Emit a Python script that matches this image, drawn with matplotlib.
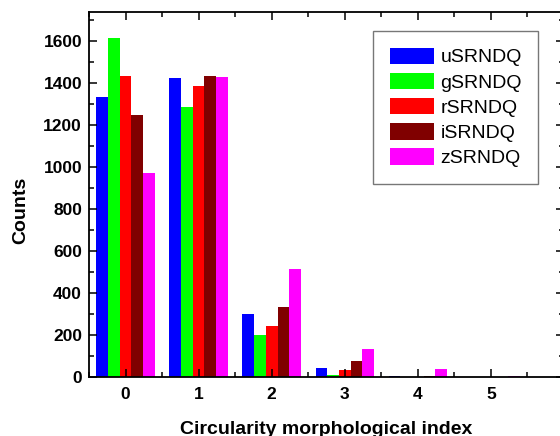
import numpy as np
import matplotlib
matplotlib.use('Agg')
import matplotlib.pyplot as plt
from matplotlib.ticker import MultipleLocator

# Counts per circularity index for each band
index = [0, 1, 2, 3, 4, 5]
uSRNDQ = [1337, 1424, 301, 41, 6, 0]
gSRNDQ = [1616, 1288, 200, 8, 0, 0]
rSRNDQ = [1436, 1386, 243, 32, 0, 0]
iSRNDQ = [1247, 1435, 333, 76, 4, 0]
zSRNDQ = [973, 1428, 517, 132, 38, 4]

series = [uSRNDQ, gSRNDQ, rSRNDQ, iSRNDQ, zSRNDQ]
labels = ['uSRNDQ', 'gSRNDQ', 'rSRNDQ', 'iSRNDQ', 'zSRNDQ']
colors = ['#0000FF', '#00FF00', '#FF0000', '#800000', '#FF00FF']

plt.rcParams['font.family'] = ['Liberation Sans', 'DejaVu Sans']

fig = plt.figure(figsize=(5.6, 4.36), dpi=100)
ax = fig.add_axes([89 / 560, 59 / 436, 475 / 560, 365 / 436])

x = np.array(index)
width = 0.16
for k, (vals, lab, col) in enumerate(zip(series, labels, colors)):
    ax.bar(x + (k - 2) * width, vals, width, color=col, label=lab, linewidth=0)

ax.set_xlim(-0.5, 6)
ax.set_ylim(0, 1740)
ax.set_xticks(range(0, 7))
ax.xaxis.set_minor_locator(MultipleLocator(0.5))
ax.yaxis.set_major_locator(MultipleLocator(200))
ax.yaxis.set_minor_locator(MultipleLocator(100))

ax.tick_params(which='both', direction='in', top=True, right=True, width=1.1)
ax.tick_params(which='major', length=6)
ax.tick_params(which='minor', length=3.5)
ax.tick_params(axis='x', which='major', pad=7)
ax.tick_params(axis='y', which='major', pad=5)
for t in ax.get_xticklabels() + ax.get_yticklabels():
    t.set_fontsize(12.5)
    t.set_fontweight('bold')
for s in ax.spines.values():
    s.set_linewidth(1.3)

ax.set_xlabel('Circularity morphological index', fontsize=14, fontweight='bold', labelpad=14)
ax.set_ylabel('Counts', fontsize=14, fontweight='bold')
ax.yaxis.set_label_coords(-0.126, 0.4575)

leg = ax.legend(loc='upper left', bbox_to_anchor=(0.598, 0.948), borderaxespad=0,
                fontsize=14, frameon=True, fancybox=False, handlelength=2.26,
                handleheight=0.93, handletextpad=0.35, labelspacing=0.32,
                borderpad=0.85)
leg.get_frame().set_edgecolor('#555555')
leg.get_frame().set_linewidth(1.0)

fig.savefig('out.png', dpi=100)
